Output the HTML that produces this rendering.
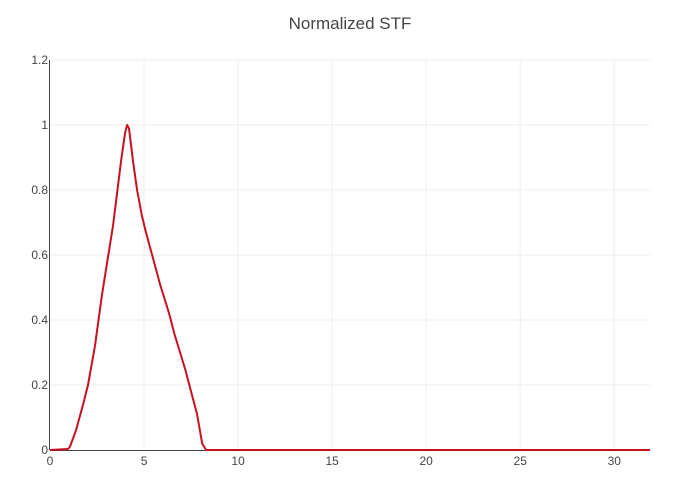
<!DOCTYPE html>
<html><head><meta charset="utf-8"><style>
body{margin:0;background:#fff}
svg{font-family:"Liberation Sans",sans-serif;display:block}
</style></head><body>
<svg id="chart" width="700" height="500">
<text x="350" y="29" text-anchor="middle" font-size="17" fill="#444">Normalized STF</text>
<g id="grid"></g><g id="axes"></g><g id="series"></g>
</svg>
<script>
const xTicks=[0,5,10,15,20,25,30];
const yTicks=[0,0.2,0.4,0.6,0.8,1,1.2];
const yTickLabels=["0","0.2","0.4","0.6","0.8","1","1.2"];
const timeValues=[0,0.96,1.06,1.38,1.76,2.02,2.39,2.77,3.35,3.78,3.99,4.1,4.2,4.41,4.63,4.89,5.1,5.43,5.85,6.28,6.38,6.6,7.18,7.82,8.09,8.3,31.9];
const stfValues=[0,0.003,0.01,0.06,0.14,0.2,0.32,0.48,0.69,0.89,0.975,1.0,0.99,0.89,0.8,0.72,0.67,0.6,0.51,0.43,0.41,0.36,0.25,0.11,0.02,0,0];
const X0=50,X1=650,Y0=450,Y1=60,xMax=31.9,yMax=1.2;
const sx=v=>X0+v/xMax*(X1-X0);
const sy=v=>Y0-v/yMax*(Y0-Y1);
const NS="http://www.w3.org/2000/svg";
const mk=(t,a,p)=>{const e=document.createElementNS(NS,t);for(const k in a)e.setAttribute(k,a[k]);p.appendChild(e);return e;};
const grid=document.getElementById('grid'),axes=document.getElementById('axes'),series=document.getElementById('series');
xTicks.forEach(t=>{
 if(t>0){const g=mk('line',{x1:sx(t),x2:sx(t),y1:Y1,y2:Y0,stroke:'#eee'},grid);
 
 }
 const l=mk('text',{x:sx(t),y:Y0+15,'text-anchor':'middle','font-size':12,fill:'#444'},axes);l.textContent=t;
 
 
});
yTicks.forEach((t,i)=>{
 if(t>0){const g=mk('line',{x1:X0,x2:X1,y1:sy(t),y2:sy(t),stroke:'#eee'},grid);
 
 }
 const l=mk('text',{x:X0-2,y:sy(t)+4,'text-anchor':'end','font-size':12,fill:'#444'},axes);l.textContent=yTickLabels[i];
 
 
});
const xa=mk('line',{x1:X0,x2:X1,y1:Y0+0.5,y2:Y0+0.5,stroke:'#444'},axes);


const ya=mk('line',{x1:X0-0.5,x2:X0-0.5,y1:Y1,y2:Y0,stroke:'#444'},axes);


const pts=timeValues.map((t,i)=>sx(t)+','+sy(stfValues[i])).join(' ');
const pl=mk('polyline',{points:pts,fill:'none',stroke:'#c8101e','stroke-width':2,'stroke-linejoin':'round'},series);


</script>
</body></html>
